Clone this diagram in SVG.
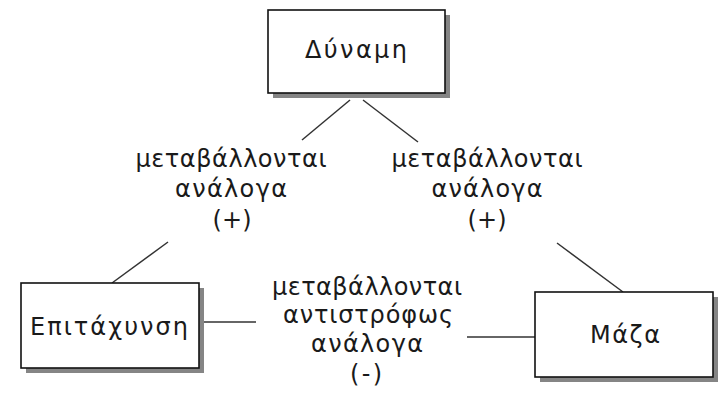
<svg xmlns="http://www.w3.org/2000/svg" width="721" height="401" viewBox="0 0 721 401">
<style>
.box{fill:#fff;stroke:#111;stroke-width:1.6}
.sh{fill:#858585}
.t{font-family:"DejaVu Sans","Liberation Sans",Arial,sans-serif;font-size:24px;fill:#1a1a1a;text-anchor:middle}
.c{stroke:#333;stroke-width:1.5;fill:none}
</style>
<rect width="721" height="401" fill="#fff"/>
<g id="connectors">
<line class="c" x1="350" y1="100" x2="302" y2="140"/>
<line class="c" x1="363" y1="100" x2="418" y2="142"/>
<line class="c" x1="168" y1="242" x2="112" y2="283"/>
<line class="c" x1="557" y1="243" x2="623" y2="292"/>
<line class="c" x1="199" y1="322" x2="256" y2="322"/>
<line class="c" x1="467" y1="337" x2="535" y2="337"/>
</g>
<g id="dynami">
<rect class="sh" x="273" y="15" width="177" height="83"/>
<rect class="box" x="268" y="10" width="177" height="83"/>
<text class="t" x="356" y="58" textLength="102" lengthAdjust="spacing">Δύναμη</text>
</g>
<g id="epitaxynsi">
<rect class="sh" x="26" y="288" width="178" height="85"/>
<rect class="box" x="21" y="283" width="178" height="85"/>
<text class="t" x="109" y="335" textLength="158" lengthAdjust="spacing">Επιτάχυνση</text>
</g>
<g id="maza">
<rect class="sh" x="540" y="297" width="178" height="85"/>
<rect class="box" x="535" y="292" width="178" height="85"/>
<text class="t" x="625" y="343" textLength="70" lengthAdjust="spacing">Μάζα</text>
</g>
<g id="label-left">
<text class="t" x="231" y="167" textLength="191" lengthAdjust="spacing">μεταβάλλονται</text>
<text class="t" x="231" y="197" textLength="112" lengthAdjust="spacing">ανάλογα</text>
<text class="t" x="232" y="228" textLength="39" lengthAdjust="spacing">(+)</text>
</g>
<g id="label-right">
<text class="t" x="487" y="167" textLength="191" lengthAdjust="spacing">μεταβάλλονται</text>
<text class="t" x="487" y="197" textLength="111" lengthAdjust="spacing">ανάλογα</text>
<text class="t" x="487" y="228" textLength="39" lengthAdjust="spacing">(+)</text>
</g>
<g id="label-middle">
<text class="t" x="367" y="295" textLength="190" lengthAdjust="spacing">μεταβάλλονται</text>
<text class="t" x="368" y="323" textLength="170" lengthAdjust="spacing">αντιστρόφως</text>
<text class="t" x="367" y="352" textLength="112" lengthAdjust="spacing">ανάλογα</text>
<text class="t" x="366" y="382" textLength="32" lengthAdjust="spacing">(-)</text>
</g>
</svg>
